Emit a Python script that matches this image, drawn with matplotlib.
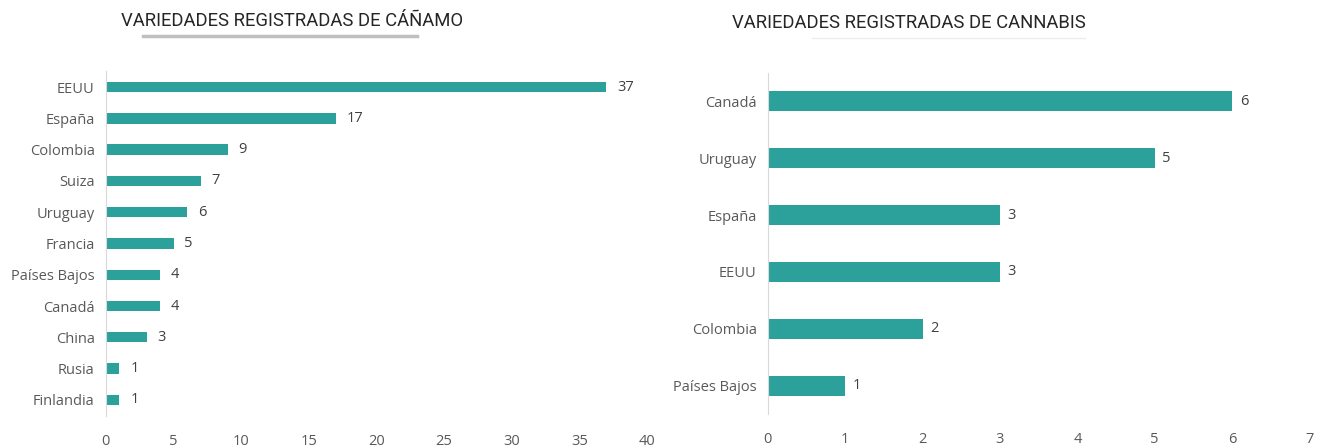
import numpy as np
import matplotlib
matplotlib.use("Agg")
import matplotlib.pyplot as plt
from matplotlib.lines import Line2D

# data
hemp_countries = ["EEUU", "España", "Colombia", "Suiza", "Uruguay", "Francia",
                  "Países Bajos", "Canadá", "China", "Rusia", "Finlandia"]
hemp_values = [37, 17, 9, 7, 6, 5, 4, 4, 3, 1, 1]

cannabis_countries = ["Canadá", "Uruguay", "España", "EEUU", "Colombia", "Países Bajos"]
cannabis_values = [6, 5, 3, 3, 2, 1]

hemp_ticks = [0, 5, 10, 15, 20, 25, 30, 35, 40]
cannabis_ticks = [0, 1, 2, 3, 4, 5, 6, 7]

bar_color = "#2CA19C"
text_color = "#595959"
plt.rcParams['font.family'] = ['Open Sans', 'DejaVu Sans']

fig = plt.figure(figsize=(13.24, 4.48), dpi=100)

def hbar(ax, cats, vals, ticks, height, pad):
    y = np.arange(len(cats))
    ax.barh(y, vals, height=height, color=bar_color)
    ax.set_yticks(y)
    ax.set_yticklabels(cats)
    ax.set_ylim(len(cats) - 0.5, -0.5)
    ax.set_xlim(ticks[0], ticks[-1])
    ax.set_xticks(ticks)
    for yy, v in zip(y, vals):
        ax.text(v + pad, yy, str(v), va="center", ha="left", fontsize=10.5, color="#404040")
    for s in ["top", "right", "bottom"]:
        ax.spines[s].set_visible(False)
    ax.spines["left"].set_color("#D9D9D9")
    ax.tick_params(axis="both", length=0, labelsize=10.5, colors=text_color)
    ax.tick_params(axis="x", pad=13)
    ax.tick_params(axis="y", pad=8)

ax1 = fig.add_axes([0.080, 0.0725, 0.4087, 0.768])
hbar(ax1, hemp_countries, hemp_values, hemp_ticks, 0.33, 0.8)

ax2 = fig.add_axes([0.580, 0.075, 0.409, 0.763])
hbar(ax2, cannabis_countries, cannabis_values, cannabis_ticks, 0.35, 0.1)

fig.text(292 / 1324, 1 - 21 / 448, "VARIEDADES REGISTRADAS DE CÁÑAMO", ha="center", va="center",
         fontsize=13.3, color="#262626", family=["Roboto", "DejaVu Sans"])
fig.add_artist(Line2D([143 / 1324, 417 / 1324], [1 - 36 / 448] * 2, color="#BFBFBF", lw=2.5))

fig.text(909 / 1324, 1 - 23 / 448, "VARIEDADES REGISTRADAS DE CANNABIS", ha="center", va="center",
         fontsize=13.3, color="#262626", family=["Roboto", "DejaVu Sans"])
fig.add_artist(Line2D([812 / 1324, 1085 / 1324], [1 - 38 / 448] * 2, color="#EDEDED", lw=1))

fig.savefig("out.png", dpi=100)
